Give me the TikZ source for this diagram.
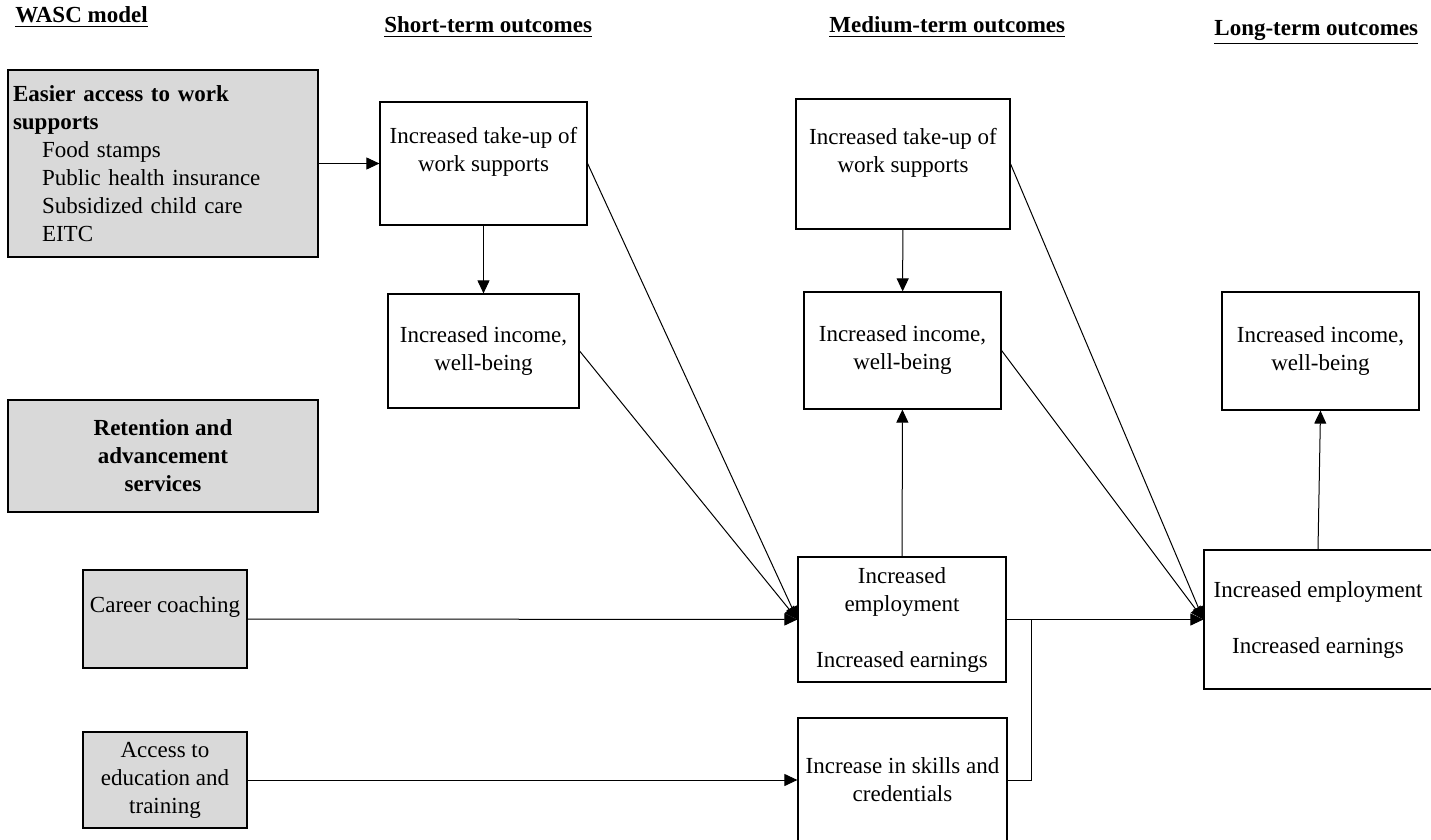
\documentclass[tikz,border=0pt]{standalone}
\usepackage{fontspec}
\setmainfont{Liberation Serif}
\usetikzlibrary{arrows.meta}
\definecolor{boxgray}{RGB}{217,217,217}

\begin{document}
\begin{tikzpicture}[x=0.5pt, y=-0.5pt, >={Triangle[length=6.5pt,width=6pt]},
    font=\fontsize{11.5}{14}\selectfont,
    box/.style={draw, line width=0.6pt, inner sep=2.5pt, align=center},
    grbox/.style={box, fill=boxgray},
    head/.style={anchor=base west, inner sep=0pt, font=\fontsize{11.5}{14}\selectfont\bfseries},
    link/.style={->, line width=0.5pt}]
    \useasboundingbox (0,0) rectangle (1431,840);

    % Titulos das colunas
    \node[head] (hwasc) at (15,23) {\underline{WASC model}};
    \node[head] (hshort) at (384,33) {\underline{Short-term outcomes}};
    \node[head] (hmed) at (829,33) {\underline{Medium-term outcomes}};
    \node[head] (hlong) at (1214,36) {\underline{Long-term outcomes}};

    % Caixas do modelo (cinzentas)
    \node[grbox, align=left, text width=150pt, minimum height=93.5pt] (ews) at (163,163.5)
      {\textbf{Easier access to work}\\\textbf{supports}\\
       \hspace*{14.5pt}Food stamps\\\hspace*{14.5pt}Public health insurance\\
       \hspace*{14.5pt}Subsidized child care\\\hspace*{14.5pt}EITC};
    \node[grbox, font=\fontsize{11.5}{14}\selectfont\bfseries, minimum width=155pt, minimum height=56pt] (ras) at (163,456)
      {Retention and\\advancement\\services};
    \node[grbox, minimum width=82pt, minimum height=49pt] (cc) at (165,619) {Career coaching\\~};
    \node[grbox, minimum width=82pt, minimum height=48pt] (edu) at (165,780)
      {Access to\\education and\\training};

    % Resultados de curto prazo
    \node[box, minimum width=103.5pt, minimum height=61.5pt] (st1) at (483.5,163.5)
      {Increased take-up of\\work supports\\~};
    \node[box, minimum width=95.5pt, minimum height=57pt] (st2) at (483.5,351)
      {Increased income,\\well-being};

    % Resultados de medio prazo
    \node[box, minimum width=107pt, minimum height=65pt] (mt1) at (903,164)
      {Increased take-up of\\work supports\\~};
    \node[box, minimum width=98.5pt, minimum height=58.5pt] (mt2) at (902.5,350.5)
      {Increased income,\\well-being};
    \node[box, minimum width=104pt, minimum height=62.5pt] (emp) at (902,619.5)
      {Increased\\employment\\~\\Increased earnings};
    \node[box, minimum width=104.5pt, minimum height=62pt] (skl) at (902.5,780)
      {Increase in skills and\\credentials};

    % Resultados de longo prazo
    \node[box, minimum width=98.5pt, minimum height=59pt] (lt1) at (1320.5,351)
      {Increased income,\\well-being};
    \node[box, minimum width=114pt, minimum height=69.5pt] (lt2) at (1318,619.5)
      {Increased employment\\~\\Increased earnings};

    % Setas
    \draw[link] (ews.east) -- (st1.west);
    \draw[link] (st1) -- (st2);
    \draw[link] (st1.east) -- (emp.west);
    \draw[link] (st2.east) -- (emp.west);
    \draw[link] (cc.east) -- (emp.west);
    \draw[link] (edu.east) -- (skl.west);
    \draw[link] (mt1) -- (mt2);
    \draw[link] (emp) -- (mt2);
    \draw[link] (mt1.east) -- (lt2.west);
    \draw[link] (mt2.east) -- (lt2.west);
    \draw[link] (emp.east) -- (lt2.west);
    \coordinate (jn) at (1031,619.5);
    \draw[line width=0.5pt] (skl.east) -| (jn);
    \draw[link] (lt2.north) -- (lt1.south);
\end{tikzpicture}
\end{document}
